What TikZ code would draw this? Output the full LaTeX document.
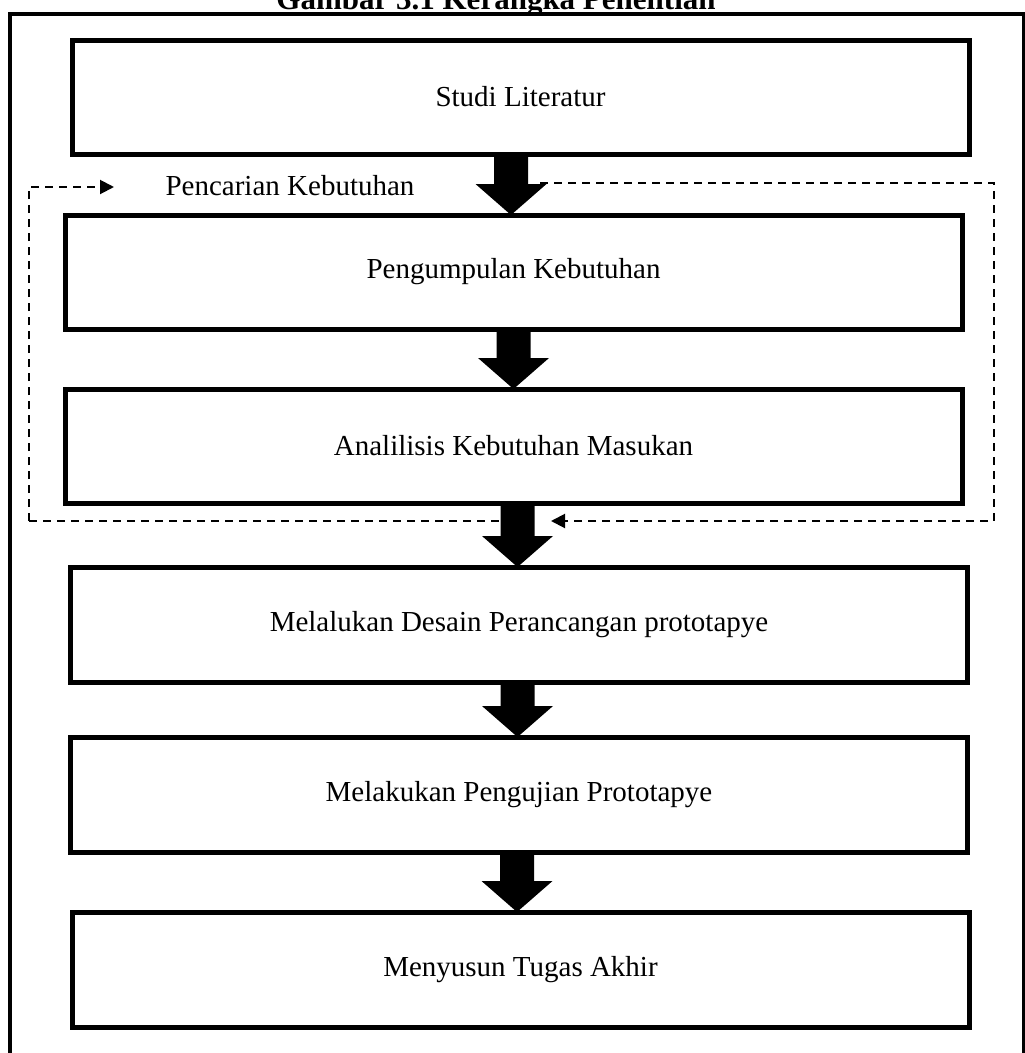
\documentclass[tikz,border=0pt]{standalone}
\usepackage{fontspec}
\setmainfont{Liberation Serif}
\usetikzlibrary{calc,arrows.meta}
\newcommand\blockarrow[3]{%
  \fill let \p1=(#1.south), \p2=(#2.north) in
    (#3pt-17pt,\y1) -- (#3pt+17pt,\y1) -- (#3pt+17pt,\y2+31pt) -- (#3pt+35.5pt,\y2+31pt)
    -- (#3pt,\y2) -- (#3pt-35.5pt,\y2+31pt) -- (#3pt-17pt,\y2+31pt) -- cycle;}
\begin{document}
\begin{tikzpicture}[x=1pt,y=-1pt,
  stepbox/.style={draw, line width=5pt, inner sep=0pt, outer sep=0pt,
    minimum width=897pt, minimum height=114pt, font=\fontsize{29}{34}\selectfont},
  loopline/.style={line width=2pt, dash pattern=on 8pt off 6pt},
  looptip/.style={-{Triangle[length=14pt,width=14pt]}}
]
\useasboundingbox (0,0) rectangle (1025,1053);

% outer frame
\draw[line width=4pt] (10,1090) -- (10,14) -- (1024,14) -- (1024,1090);
\node[font=\fontsize{31}{36}\selectfont\bfseries, anchor=base, inner sep=0pt] (title) at (496,9) {Gambar 3.1 Kerangka Penelitian};

% boxes
\node[stepbox] (b1) at (520.5,97) {Studi Literatur};
\node[stepbox] (b2) at (513.5,272) {Pengumpulan Kebutuhan};
\node[stepbox] (b3) at (513.5,446) {Analilisis Kebutuhan Masukan};
\node[stepbox, minimum height=115pt] (b4) at (519,624.5) {Melalukan Desain Perancangan prototapye};
\node[stepbox, minimum height=115pt] (b5) at (519,794.5) {Melakukan Pengujian Prototapye};
\node[stepbox, minimum height=115pt] (b6) at (520.5,969.5) {Menyusun Tugas Akhir};

% dashed loop
\node[font=\fontsize{29}{34}\selectfont, inner sep=0pt] (lbl) at (290,186) {Pencarian Kebutuhan};
\coordinate (lbot) at (29,521);
\coordinate (ltop) at (29,187);
\coordinate (ltip) at (114,187);
\coordinate (rstart) at (540,183);
\coordinate (rtopc) at (994,183);
\coordinate (rbotc) at (994,521);
\coordinate (rtip) at (551,521);
\coordinate (bmid) at (505,521);
\draw[loopline, looptip] (lbot) -- (ltop) -- (ltip);
\draw[loopline, looptip] (rstart) -- (rtopc) -- (rbotc) -- (rtip);
\draw[loopline] (lbot) -- (bmid);

% block arrows
\blockarrow{b1}{b2}{511}
\blockarrow{b2}{b3}{513.5}
\blockarrow{b3}{b4}{517.5}
\blockarrow{b4}{b5}{517.5}
\blockarrow{b5}{b6}{517}
\end{tikzpicture}
\end{document}
